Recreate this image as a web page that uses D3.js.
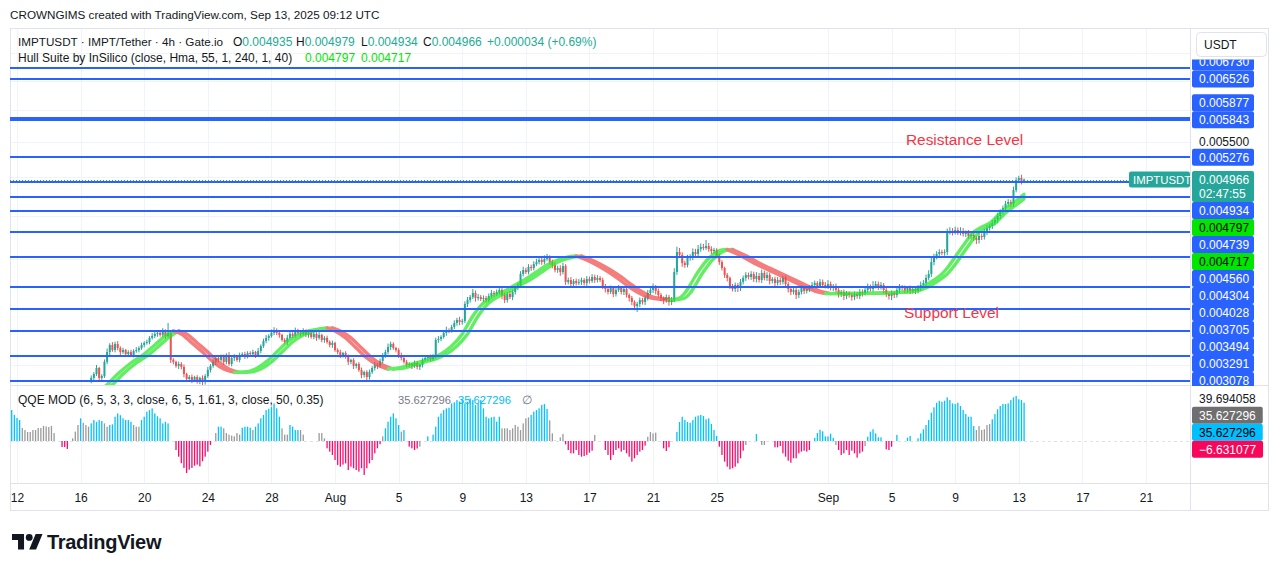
<!DOCTYPE html>
<html><head><meta charset="utf-8">
<script src="https://cdn.jsdelivr.net/npm/d3@7/dist/d3.min.js"></script>
<style>
html,body{margin:0;padding:0;background:#fff;}
svg{display:block;}
text{font-family:"Liberation Sans",Arial,sans-serif;}
</style></head><body>
<svg id="chart" width="1281" height="571"></svg>
<script>
// ================= DATA =================
const candleStart = "2025-07-16T16:00:00Z";
const qqeStart = "2025-07-11T16:00:00Z";
const barHours = 4;
const priceUnit = 1e-6;
const firstOpen = 2880;
// closes (x 1e-6 USDT), 4h bars
const closes = [
2897,2928,2976,2897,2912,3026,3108,3168,3125,3177,
3142,3108,3125,3091,3108,3083,3117,3125,3142,3168,
3186,3194,3230,3247,3265,3274,3256,3291,3247,3274,
3042,3026,2993,3009,2985,2928,2889,2904,2881,2904,
2873,2897,2865,2912,2960,2993,3026,3058,3042,3067,
3026,3083,3009,3058,3075,3042,3083,3091,3075,3100,
3091,3108,3083,3117,3159,3203,3230,3247,3274,3300,
3274,3256,3212,3194,3230,3265,3247,3291,3274,3265,
3291,3256,3274,3238,3265,3230,3256,3212,3230,3194,
3168,3186,3125,3108,3083,3100,3067,3026,3042,2993,
3009,2960,2920,2944,2904,2944,2976,3001,2993,3034,
3075,3108,3151,3177,3142,3125,3083,3058,3026,3001,
3009,2993,3017,2985,3001,3042,3058,3067,3050,3075,
3212,3221,3238,3274,3300,3291,3327,3363,3391,3373,
3382,3542,3580,3609,3649,3600,3609,3590,3600,3580,
3619,3649,3639,3659,3679,3629,3580,3639,3609,3659,
3699,3729,3842,3884,3863,3916,3905,3948,3969,3991,
3969,4002,4013,3969,3937,3884,3905,3863,3926,3760,
3780,3739,3770,3749,3760,3780,3749,3790,3770,3811,
3780,3801,3780,3719,3689,3659,3699,3639,3679,3699,
3659,3689,3629,3600,3561,3522,3542,3580,3561,3600,
3649,3679,3709,3669,3629,3600,3580,3609,3561,3580,
3863,4079,4046,3958,3937,4013,4024,4079,4057,4112,
4135,4123,4146,4112,4090,4101,4035,3969,3905,3832,
3801,3719,3689,3729,3699,3760,3801,3832,3811,3842,
3790,3822,3780,3853,3801,3832,3770,3790,3749,3780,
3760,3801,3739,3689,3659,3679,3629,3659,3699,3669,
3689,3709,3729,3749,3719,3760,3729,3719,3739,3699,
3719,3679,3639,3659,3619,3649,3629,3609,3639,3619,
3659,3649,3679,3709,3689,3719,3739,3709,3729,3679,
3639,3619,3649,3629,3679,3709,3699,3679,3699,3669,
3689,3669,3699,3729,3749,3801,3842,3969,4024,4057,
4079,4068,4079,4307,4318,4307,4330,4307,4318,4284,
4295,4260,4272,4237,4214,4260,4249,4307,4353,4377,
4413,4449,4498,4547,4597,4648,4673,4648,4827,4960,
4987,4935,4966];
// upper wick above body top (x 1e-6)
const upWick = [
20,15,25,10,15,20,30,15,25,20, 25,15,20,10,15,20,15,25,15,20,
15,20,15,25,20,15,20,25,15,90, 20,15,10,20,15,20,10,15,20,10,
15,10,20,15,25,15,20,15,25,20, 20,15,25,20,15,10,20,15,20,15,
15,20,10,25,15,20,25,15,30,25, 15,20,10,15,25,20,15,30,20,15,
25,15,20,10,20,15,25,10,15,20, 15,20,10,15,20,10,15,20,10,15,
10,15,20,10,15,20,15,25,15,20, 25,20,30,20,15,10,15,20,10,15,
15,10,20,15,10,15,20,15,20,15, 20,25,15,20,30,15,20,25,20,30,
20,25,30,20,40,25,30,20,25,20, 25,30,20,25,40,30,25,20,30,25,
20,25,30,35,25,30,25,30,35,30, 25,40,45,30,25,30,25,30,35,20,
25,30,20,25,30,25,20,30,25,30, 25,30,20,25,20,30,25,20,25,30,
20,25,20,15,20,15,20,25,20,25, 30,25,35,20,25,20,15,25,20,30,
40,60,45,30,25,35,30,40,35,45, 40,35,68,35,30,25,20,25,20,15,
20,15,20,25,20,30,25,30,25,30, 25,40,30,35,25,30,25,20,25,30,
25,20,25,20,15,25,20,25,30,20, 25,20,30,25,20,30,25,30,40,25,
20,25,30,20,25,20,15,20,25,20, 30,25,30,35,25,50,30,25,30,20,
20,15,25,20,25,30,20,25,20,25, 20,25,30,35,30,35,40,45,35,30,
30,25,30,40,45,35,40,30,45,35, 30,35,25,30,25,35,30,40,35,30,
35,30,40,35,30,40,35,30,45,35, 30,45,13];
// lower wick below body bottom (x 1e-6)
const downWick = [
25,20,15,25,20,15,20,25,15,20, 20,25,15,20,25,15,20,15,20,15,
20,15,20,15,20,25,15,20,25,15, 25,20,15,25,20,25,15,20,25,15,
20,25,23,20,15,20,15,25,20,15, 25,20,15,20,25,15,20,15,25,20,
15,20,25,15,20,15,20,25,15,20, 20,25,15,20,25,15,20,15,20,25,
15,20,25,15,20,25,15,20,25,15, 20,25,15,20,25,20,15,25,20,25,
20,15,25,20,30,20,15,20,25,15, 20,15,20,25,15,20,25,20,15,20,
20,25,15,20,25,20,15,25,20,15, 20,25,20,15,25,20,15,20,25,30,
25,20,30,25,20,35,25,20,30,25, 20,25,30,20,25,40,30,25,20,30,
25,20,30,25,20,25,30,25,20,25, 30,25,20,30,35,25,30,40,25,30,
25,30,35,25,20,30,25,30,25,20, 30,25,20,30,35,25,20,30,25,20,
25,30,25,35,30,40,57,30,25,30, 25,20,30,35,25,30,40,25,35,30,
20,30,35,40,30,25,30,35,30,25, 30,25,20,30,35,30,25,30,25,30,
35,30,25,30,40,30,25,30,25,30, 30,35,25,30,25,30,35,25,30,25,
30,25,30,35,30,25,40,30,25,30, 25,30,25,30,25,20,30,25,30,25,
30,25,35,30,40,30,25,35,30,25, 30,35,25,30,25,30,25,30,25,35,
30,35,40,30,25,30,25,30,25,30, 25,30,25,30,35,30,25,30,35,25,
30,25,30,35,30,40,30,35,40,30, 35,30,40,35,45,40,35,30,35,30,
35,30,40,35,30,40,35,40,35,30, 40,35,1];
// Hull Suite (HMA 55) centre line read at selected bars (bar index, x 1e-6)
const hullIdx = [0,5,10,15,20,24,28,31,34,38,42,46,50,54,58,62,66,70,74,78,82,86,89,92,96,100,104,108,112,116,120,124,128,132,136,140,144,148,152,156,160,164,168,172,176,180,183,186,190,194,198,202,206,210,214,218,222,224,226,228,230,232,234,236,238,240,242,246,250,254,258,262,266,270,274,277,282,290,298,304,308,313,318,321,323,326,330,333,336,339,343,348,352];
const hullVal = [2765,2826,2928,3017,3091,3168,3247,3291,3265,3186,3108,3026,2968,2941,2944,2968,3026,3108,3194,3256,3291,3309,3318,3291,3230,3142,3058,3001,2968,2976,3001,3026,3050,3091,3159,3265,3428,3551,3619,3669,3729,3790,3863,3937,3991,4024,4035,4002,3948,3884,3811,3729,3659,3609,3590,3580,3600,3649,3729,3822,3905,3980,4035,4079,4101,4106,4079,4024,3958,3905,3853,3801,3749,3699,3659,3643,3644,3645,3649,3655,3661,3699,3780,3842,3905,4024,4191,4307,4365,4413,4535,4660,4770];
const hullLegend = [0.004797, 0.004717];
// QQE MOD histogram, one value per 4h bar
const qqeVals = [
28.8,24.2,21.4,19.5,12.1,10.2,8.4,8.4,10.2,10.2,
12.1,12.1,14,13.5,13,14,7.4,0,0,-5.6,
-5.6,-7.4,0,2.5,8.7,14.9,21.1,17,14.9,13.3,
16.4,19.5,17.9,19.5,18.6,16.4,13.3,14.9,15.5,22.6,
25.7,24,21.1,19.5,19.5,17.9,14.9,13.3,13.3,19.5,
22.6,27.3,28.8,30.4,25.7,23,21.1,16.4,17.9,16.4,
0,0,-8.4,-14.6,-20.7,-25.1,-29.8,-26.7,-25.1,-23,
-22,-23.6,-18.9,-14.6,-9.9,-3.7,0,7.4,13.3,13.3,
11.8,7.4,5.9,5,4.3,7.4,5.9,12.4,13.3,13.3,
12.4,10.2,13.3,16.4,21.1,24.2,28.8,30,31.9,35,
30.4,22.6,11.8,5.9,5.9,14.9,13.3,10.2,10.2,10.2,
5.9,0,0,0,0,0,7.4,7.4,2.5,-6.8,
-9.9,-13,-17.7,-22.3,-23.9,-22,-20.8,-27,-23.9,-25.4,
-27,-28.5,-25.4,-31.6,-25.4,-20.8,-17.7,-11.5,-6.8,-3,
4.3,11.8,18,22.6,25.7,21.1,14.9,8.7,10.2,0,
-5.3,-6.8,-8.4,-7,-5.3,0,0,4.3,0,5.9,
13.3,22.6,25.7,28.8,30.4,31,35,36,38.1,36.6,
38.1,35,36.6,39.7,38.1,33.5,35,38.1,30.4,22.6,
21.1,22,22.6,18,22.6,11.8,11.8,11.8,10.2,11.8,
14.9,13.3,10.2,16.4,21.1,22,24.2,27.3,28.8,30.4,
33.5,34.4,29.8,19.2,7.1,0.5,0,3.4,6.5,-3.1,
-8.4,-11.5,-11.5,-8.4,-13,-14.6,-14,-13,-10.9,-9,
5.6,0,0,0,-8.4,-13,-17.7,-13,-8.4,-6.8,
-9.9,-8.4,-11.5,-14.6,-19.2,-16.1,-13,-9.9,-8.4,-4.3,
4,8.4,7.1,7.8,0,0,-6.8,-9.3,-5.9,0,
0,8.4,17.7,22.6,19.5,17.7,17,19.5,22.6,23.6,
24.2,23.3,20.2,21.1,15.8,10.2,4.7,-5.3,-13,-19.2,
-23.9,-26.4,-25.4,-23.9,-20.8,-16.1,-9,-3.7,0,0,
0,6.5,0,-3.7,-3.7,0,0,0,-5.9,-5.9,
-4.7,-11.5,-14.6,-18.3,-20.2,-16.1,-16.1,-11.5,-9.9,-9,
-9.9,-8.4,0,2.8,7.4,10.5,9,4.3,4.3,6.8,
2.8,-3.7,-8.4,-13,-11.5,-8.4,-13,-9,-11.5,-15.5,
-11.5,-9.9,-4.7,4,8.7,10.9,7.1,3.4,3.4,0,
-7.8,-8.4,-5.3,0,5.6,0,0,0,3.1,4.7,
0,0,2.5,7.1,10.9,14.9,19.5,26.4,31.3,35.6,
37.5,36.6,37.5,40.6,38.1,35,34.4,35.6,32.6,28.8,
25.1,22.6,22.6,13.9,10.2,13.9,10.2,10.9,14.9,15.8,
20.2,25.1,29.5,32.6,34.4,34.4,35,38.1,40.6,41.9,
38.8,38.1,35.627296];
// b = above both thresholds (blue), r = below (red), g = neutral (grey)
const qqeColorCodes = [
"bbbbgggggg","gggggggggr","rrggggbggg","bbbbbggbbb","bbbbbbgggb",
"bbbbbbbbbb","ggrrrrrrrr","rrrrrrggbb","gggggggbbb","bgbbbbbbbb",
"bbgggbbbbg","gggggggggr","rrrrrrrrrr","rrrrrrrrrr","gbbbbbbgbg",
"rrrrgggbgb","bbbbbbbbbb","bbbbbbbbbb","bbbbbggggg","ggggggbbbb",
"bbbggggggr","rrrrrrrrrr","ggggrrrrrr","rrrrrrrrrr","ggggggrrrg",
"gbbbbbbbbb","bbbbbbbrrr","rrrrrrrggg","gbggggggrr","rrrrrrrrrr",
"rrgbbbbbbb","bgrrrrrrrr","rrgbbbbbbg","rrrgbgggbb","ggbbbbbbbb",
"bbbbbbbbbb","bbbbgggggg","bbbbbbbbbb","bbb"].join("").split("");
const qqeAxisVals = [39.694058, 35.627296, 35.627296, -6.631077];
const levelPrices = [0.006730,0.006526,0.005877,0.005843,0.005276,0.004934,0.004739,0.004560,0.004304,0.004028,0.003705,0.003494,0.003291,0.003078,0.002873];
const priceTicks = [0.0030,0.0035,0.0040,0.0045,0.0050,0.0055,0.0060,0.0065,0.0070];
const timeTicks = ["2025-07-12","2025-07-16","2025-07-20","2025-07-24","2025-07-28","2025-08-01","2025-08-05","2025-08-09","2025-08-13","2025-08-17","2025-08-21","2025-08-25","2025-09-01","2025-09-05","2025-09-09","2025-09-13","2025-09-17","2025-09-21"];
const timeTickLabels = ["12","16","20","24","28","Aug","5","9","13","17","21","25","Sep","5","9","13","17","21"];
const ohlc = {o:0.004935, h:0.004979, l:0.004934, c:0.004966, chg:"+0.000034 (+0.69%)"};
const countdown = "02:47:55";

// ================= LAYOUT =================
const L=10, R=1190, AX=1191, AR=1269, PT=28, PB=385, QT=386, QB=483, TB=511;
const C_TEXT="#131722", C_GRID="#f0f3fa", C_BORDER="#e0e3eb", C_UP="#26a69a", C_DN="#ef5350", C_LINE="#2962ff";
const fmt6 = d3.format(".6f");

const svg = d3.select("#chart");
const defs = svg.append("defs");
defs.append("clipPath").attr("id","clipP").append("rect").attr("x",L).attr("y",PT).attr("width",R-L).attr("height",PB-PT);
defs.append("clipPath").attr("id","clipQ").append("rect").attr("x",L).attr("y",QT).attr("width",R-L).attr("height",QB-QT);
// price-axis label area (below the currency button)
defs.append("clipPath").attr("id","clipA").append("rect").attr("x",AX).attr("y",59.5).attr("width",AR-AX).attr("height",PB-59.5+1);
defs.append("filter").attr("id","soft").attr("x","-5%").attr("y","-20%").attr("width","110%").attr("height","140%")
  .append("feGaussianBlur").attr("stdDeviation",0.75);

svg.append("rect").attr("width",1281).attr("height",571).attr("fill","#fff");

const x = d3.scaleUtc().domain([new Date("2025-07-12T00:00:00Z"), new Date("2025-09-21T00:00:00Z")]).range([17,1146]);
const y = d3.scaleLog().domain([0.0028418, 0.0074971]).range([PB, PT]);
const yq = d3.scaleLinear().domain([-39.1, 51.2]).range([QB, QT]);

const t0 = Date.parse(candleStart), q0 = Date.parse(qqeStart), step = barHours*3600e3;
const candles = closes.map((c,i)=>{
  const o = i ? closes[i-1] : firstOpen;
  return {t:new Date(t0+i*step), o:o*priceUnit, c:c*priceUnit,
          h:(Math.max(o,c)+upWick[i])*priceUnit, l:(Math.min(o,c)-downWick[i])*priceUnit};
});
const xLast = x(candles[candles.length-1].t);
defs.append("clipPath").attr("id","clipH").append("rect").attr("x",L).attr("y",PT).attr("width",xLast+1.5-L).attr("height",PB-PT);

// header
svg.append("text").attr("x",10).attr("y",19).attr("font-size",11.7).attr("fill",C_TEXT)
  .text("CROWNGIMS created with TradingView.com, Sep 13, 2025 09:12 UTC");

// grid
const grid = svg.append("g");
timeTicks.forEach(d=>{
  const xx = Math.round(x(new Date(d+"T00:00:00Z")))+0.5;
  grid.append("line").attr("x1",xx).attr("x2",xx).attr("y1",PT).attr("y2",QB).attr("stroke",C_GRID);
});
priceTicks.forEach(p=>{
  const yy = Math.round(y(p))+0.5;
  if (yy>PT && yy<PB) grid.append("line").attr("x1",L).attr("x2",R).attr("y1",yy).attr("y2",yy).attr("stroke",C_GRID);
});

// frame
const fr = svg.append("g").attr("stroke",C_BORDER).attr("fill","none");
fr.append("rect").attr("x",L+0.5).attr("y",PT+0.5).attr("width",AR-L-1).attr("height",TB-PT-1);
fr.append("line").attr("x1",L).attr("x2",AR).attr("y1",PB+0.5).attr("y2",PB+0.5);
fr.append("line").attr("x1",L).attr("x2",AR).attr("y1",QB+0.5).attr("y2",QB+0.5);
fr.append("line").attr("x1",AX-0.5).attr("x2",AX-0.5).attr("y1",PT).attr("y2",TB);

// ---------- price pane ----------
const pp = svg.append("g").attr("clip-path","url(#clipP)");
// candles
const cg = pp.append("g");
candles.forEach(d=>{
  const cx = x(d.t), col = d.c>=d.o ? C_UP : C_DN;
  cg.append("line").attr("x1",cx).attr("x2",cx).attr("y1",y(d.h)).attr("y2",y(d.l)).attr("stroke",col).attr("stroke-width",1);
  const yt = y(Math.max(d.o,d.c)), yb = y(Math.min(d.o,d.c));
  cg.append("rect").attr("x",cx-1).attr("y",yt).attr("width",2).attr("height",Math.max(1,yb-yt)).attr("fill",col);
});
// hull band (HULL and HULL[2])
const hpts = hullIdx.map((k,i)=>({k, v:hullVal[i]*priceUnit}));
const runs=[]; let cur=[hpts[0]], dir=null;
for(let i=1;i<hpts.length;i++){
  const d = hpts[i].v>=hpts[i-1].v ? 1 : -1;
  if(dir===null || d===dir){ cur.push(hpts[i]); dir=d; }
  else { runs.push({dir, pts:cur}); cur=[hpts[i-1],hpts[i]]; dir=d; }
}
runs.push({dir, pts:cur});
const tOf = k=>new Date(t0+k*step);
const lineA = d3.line().x(p=>x(tOf(p.k))).y(p=>y(p.v)).curve(d3.curveMonotoneX);
const lineB = d3.line().x(p=>x(tOf(p.k+2))).y(p=>y(p.v)).curve(d3.curveMonotoneX);
const hg = pp.append("g").attr("clip-path","url(#clipH)").append("g").attr("opacity",0.7).attr("filter","url(#soft)");
runs.forEach(r=>{
  const col = r.dir>0 ? "#22e622" : "#f04646";
  [lineA,lineB].forEach(fn=>hg.append("path").attr("d",fn(r.pts)).attr("fill","none").attr("stroke",col).attr("stroke-width",3.4).attr("stroke-linecap","round"));
});
// horizontal levels
levelPrices.forEach(p=>{
  const yy = Math.round(y(p));
  pp.append("line").attr("x1",L).attr("x2",R).attr("y1",yy).attr("y2",yy).attr("stroke",C_LINE).attr("stroke-width",2);
});
// current price dotted line
const yLast = y(ohlc.c);
const yLr = Math.round(yLast)+0.5;
pp.append("line").attr("x1",L).attr("x2",R).attr("y1",yLr).attr("y2",yLr).attr("stroke",C_UP).attr("stroke-width",1).attr("stroke-dasharray","1,2");
// texts
pp.append("text").attr("x",906).attr("y",145).attr("font-size",15.4).attr("fill","#f23645").text("Resistance Level");
pp.append("text").attr("x",904).attr("y",318).attr("font-size",15.4).attr("fill","#f23645").text("Support Level");
// symbol tag
pp.append("rect").attr("x",1129).attr("y",yLast-8).attr("width",61).attr("height",16).attr("rx",2).attr("fill",C_UP);
svg.append("text").attr("x",1133).attr("y",yLast+4.2).attr("font-size",11.4).attr("fill","#fff").text("IMPTUSDT");

// legend
const lg = svg.append("g").attr("font-size",12);
const l1 = 46, l2 = 62;
lg.append("text").attr("x",18).attr("y",l1).attr("font-size",11.7).attr("fill",C_TEXT).text("IMPTUSDT · IMPT/Tether · 4h · Gate.io");
[["O",ohlc.o,233],["H",ohlc.h,296],["L",ohlc.l,361],["C",ohlc.c,423]].forEach(([k,v,xx])=>{
  const t = lg.append("text").attr("x",xx).attr("y",l1);
  t.append("tspan").attr("fill",C_TEXT).text(k);
  t.append("tspan").attr("fill","#22ab94").text(fmt6(v));
});
lg.append("text").attr("x",487).attr("y",l1).attr("fill","#22ab94").text(ohlc.chg);
lg.append("text").attr("x",18).attr("y",l2).attr("fill",C_TEXT).text("Hull Suite by InSilico (close, Hma, 55, 1, 240, 1, 40)");
lg.append("text").attr("x",305).attr("y",l2).attr("fill","#00e600").text(fmt6(hullLegend[0]));
lg.append("text").attr("x",361).attr("y",l2).attr("fill","#00e600").text(fmt6(hullLegend[1]));

// ---------- QQE pane ----------
const qp = svg.append("g").attr("clip-path","url(#clipQ)");
const z = Math.round(yq(0))+0.5;
qp.append("line").attr("x1",L).attr("x2",R).attr("y1",z).attr("y2",z).attr("stroke","#dfe1e8").attr("stroke-dasharray","3,3");
const qcol = {b:"#00c3ff", g:"#9a9a9a", r:"#ff0a6c"};
qqeVals.forEach((v,j)=>{
  if(!v) return;
  const cx = x(new Date(q0+j*step));
  const y1 = yq(Math.max(0,v)), y2 = yq(Math.min(0,v));
  qp.append("rect").attr("x",cx-0.65).attr("y",y1).attr("width",1.3).attr("height",Math.max(0.5,y2-y1)).attr("fill",qcol[qqeColorCodes[j]]);
});
const ql = svg.append("g").attr("font-size",12);
ql.append("text").attr("x",18).attr("y",404).attr("fill",C_TEXT).text("QQE MOD (6, 5, 3, 3, close, 6, 5, 1.61, 3, close, 50, 0.35)");
ql.append("text").attr("x",398).attr("y",404).attr("font-size",11.2).attr("fill","#787b86").text(qqeAxisVals[1].toFixed(6));
ql.append("text").attr("x",458).attr("y",404).attr("font-size",11.2).attr("fill","#00bcf5").text(qqeAxisVals[2].toFixed(6));
ql.append("text").attr("x",522).attr("y",404).attr("fill","#787b86").text("∅");

// ---------- time axis ----------
const tAxis = d3.axisBottom(x).tickValues(timeTicks.map(d=>new Date(d+"T00:00:00Z")))
  .tickFormat((d,i)=>timeTickLabels[i]).tickSize(0).tickPadding(10);
const tg = svg.append("g").attr("transform",`translate(0,${QB})`).call(tAxis);
tg.select(".domain").remove();
tg.selectAll("text").attr("font-size",12).attr("fill",C_TEXT).attr("font-family","Liberation Sans, Arial, sans-serif");

// ---------- price axis ----------
const LH = 17;
const lbls = levelPrices.map(p=>({p, yd:y(p), txt:fmt6(p), bg:C_LINE, fg:"#fff"}))
  .concat(hullLegend.map(p=>({p, yd:y(p), txt:fmt6(p), bg:"#00e600", fg:"#000"})));
const anchor = {p:ohlc.c, yd:yLast, txt:fmt6(ohlc.c), bg:C_UP, fg:"#fff", extra:countdown};
const above = lbls.filter(d=>d.yd<anchor.yd).sort((a,b)=>b.yd-a.yd);
const below = lbls.filter(d=>d.yd>=anchor.yd).sort((a,b)=>a.yd-b.yd);
anchor.y = anchor.yd; anchor.top = anchor.y-LH/2; anchor.bot = anchor.y+LH/2+14;
let lim = anchor.top;
above.forEach(d=>{ d.y = Math.min(d.yd, lim-LH/2); lim = d.y-LH/2; d.top=d.y-LH/2; d.bot=d.y+LH/2; });
lim = anchor.bot;
below.forEach(d=>{ d.y = Math.max(d.yd, lim+LH/2); lim = d.y+LH/2; d.top=d.y-LH/2; d.bot=d.y+LH/2; });
// labels pushed out of the price pane are not shown
const allBoxes = above.concat([anchor], below).filter(b=>b.top < PB-4);

const pAxis = d3.axisRight(y).tickValues(priceTicks).tickFormat(fmt6).tickSize(0).tickPadding(8);
const pa = svg.append("g").attr("transform",`translate(${AX},0)`).call(pAxis);
pa.select(".domain").remove();
pa.selectAll(".tick").each(function(p){
  const yy = y(p);
  const hidden = yy<60 || yy>PB-8 || allBoxes.some(b=>yy>b.top-4 && yy<b.bot+4);
  if(hidden) d3.select(this).remove();
});
pa.selectAll("text").attr("font-size",12).attr("fill",C_TEXT).attr("font-family","Liberation Sans, Arial, sans-serif");

const ag = svg.append("g").attr("clip-path","url(#clipA)").attr("font-size",12);
allBoxes.forEach(b=>{
  ag.append("rect").attr("x",AX+1).attr("y",b.top).attr("width",62).attr("height",b.bot-b.top).attr("rx",2).attr("fill",b.bg);
  ag.append("text").attr("x",AX+8).attr("y",b.y+4.3).attr("fill",b.fg).text(b.txt);
  if(b.extra) ag.append("text").attr("x",AX+8).attr("y",b.y+18.3).attr("fill",b.fg).text(b.extra);
});
// currency box
svg.append("rect").attr("x",1196.5).attr("y",32.5).attr("width",70).attr("height",24).attr("rx",4).attr("fill","#fff").attr("stroke","#e0e3eb");
svg.append("text").attr("x",1204).attr("y",48.5).attr("font-size",12).attr("fill",C_TEXT).text("USDT");

// QQE axis labels (stacked top-down)
const qspec = [{v:qqeAxisVals[0], bg:null, fg:C_TEXT},{v:qqeAxisVals[1], bg:"#6f6f6f", fg:"#fff"},{v:qqeAxisVals[2], bg:"#00bfff", fg:"#000"},{v:qqeAxisVals[3], bg:"#f7065a", fg:"#fff"}];
let qlim = -1e9;
const qa = svg.append("g").attr("font-size",12);
qspec.forEach(s=>{
  const yy = Math.max(yq(s.v), qlim+LH/2); qlim = yy+LH/2;
  const txt = s.v<0 ? "−"+Math.abs(s.v).toFixed(6) : s.v.toFixed(6);
  const t = qa.append("text").attr("x",AX+8).attr("y",yy+4.3).attr("fill",s.fg).text(txt);
  if(s.bg){
    const w = t.node().getComputedTextLength()+14;
    qa.insert("rect","text").attr("x",AX+1).attr("y",yy-LH/2).attr("width",w).attr("height",LH).attr("rx",2).attr("fill",s.bg);
  }
});

// footer logo
const logo = svg.append("g").attr("transform","translate(12,530.5) scale(0.86)").attr("fill",C_TEXT);
logo.append("path").attr("d","M14 22H7V11H0V4h14v18zM28 22h-8l7.5-18h8L28 22z");
logo.append("circle").attr("cx",20).attr("cy",8).attr("r",4);
svg.append("text").attr("x",47).attr("y",549).attr("font-size",20).attr("font-weight",700).attr("fill",C_TEXT).attr("letter-spacing",-0.3).text("TradingView");
</script>
</body></html>
